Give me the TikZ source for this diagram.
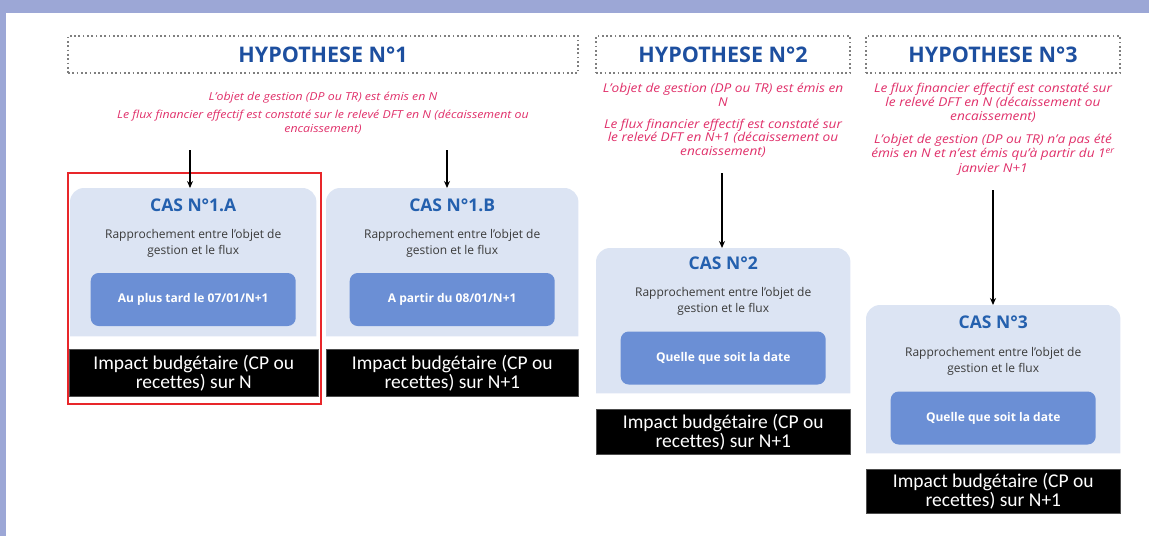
\documentclass[tikz,border=0pt]{standalone}
\usepackage{fontspec}
\setmainfont{Open Sans}
\newfontfamily\calib[Ligatures=NoCommon]{Carlito}
\newfontfamily\pinkfont[FakeStretch=1.12]{Open Sans}
\usetikzlibrary{arrows.meta}
\definecolor{band}{HTML}{9CA7D6}
\definecolor{hblue}{HTML}{1D4F9F}
\definecolor{cblue}{HTML}{2460AE}
\definecolor{pinkc}{HTML}{E0306A}
\definecolor{lbox}{HTML}{DCE4F3}
\definecolor{btn}{HTML}{6B8FD5}
\definecolor{dgray}{HTML}{3A3A3A}
\definecolor{dotc}{HTML}{7F7F7F}
\definecolor{redc}{HTML}{E8262A}
\newcommand\lightbg[1]{\fill[lbox] (#1.south west) [rounded corners=14pt] -- (#1.north west) -- (#1.north east) [sharp corners] -- (#1.south east) -- cycle;}
\begin{document}
\begin{tikzpicture}[x=1pt,y=-1pt,
  hyp/.style={draw=dotc, line width=1.7pt, dash pattern=on 1.7pt off 2.6pt, minimum height=37pt, inner sep=0pt, font=\bfseries\fontsize{21.5}{24}\selectfont, text=hblue},
  pinktxt/.style={text=pinkc, align=center, anchor=north, inner sep=0pt},
  casebox/.style={anchor=north west, inner sep=0pt, minimum height=148pt},
  castitle/.style={text=cblue, font=\bfseries\fontsize{17.5}{20}\selectfont, inner sep=0pt},
  casedesc/.style={text=dgray, font=\fontsize{12}{16}\selectfont, align=center, inner sep=0pt},
  button/.style={fill=btn, rounded corners=8pt, minimum width=205pt, minimum height=53pt, text=white, font=\bfseries\fontsize{12}{14}\selectfont, inner sep=0pt},
  impact/.style={fill=black, draw=black!70, line width=0.6pt, anchor=north west, inner sep=0pt, text=white, font=\calib\fontsize{19.5}{19}\selectfont, align=center},
  arr/.style={-{Stealth[length=7pt,width=6pt]}, line width=1.3pt}
]
\useasboundingbox (0,0) rectangle (1149,536);
\fill[band] (0,0) rectangle (1149,13);
\fill[band] (0,0) rectangle (6,536);

% hypotheses
\node[hyp, minimum width=510pt] (h1) at (323,54.5) {HYPOTHESE N°1};
\node[hyp, minimum width=254pt] (h2) at (723,54.5) {HYPOTHESE N°2};
\node[hyp, minimum width=254pt] (h3) at (993,54.5) {HYPOTHESE N°3};

\node[pinktxt, font=\pinkfont\itshape\fontsize{11}{13.5}\selectfont] (t1) at (323,92) {L’objet de gestion (DP ou TR) est émis en N\\[4.5pt]
Le flux financier effectif est constaté sur le relevé DFT en N (décaissement ou\\encaissement)};
\node[pinktxt, font=\pinkfont\itshape\fontsize{12.2}{13.8}\selectfont] (t2) at (723,83) {L’objet de gestion (DP ou TR) est émis en\\N\\[8pt]
Le flux financier effectif est constaté sur\\le relevé DFT en N+1 (décaissement ou\\encaissement)};
\node[pinktxt, font=\pinkfont\itshape\fontsize{12.2}{13.8}\selectfont] (t3) at (993,83) {Le flux financier effectif est constaté sur\\le relevé DFT en N (décaissement ou\\encaissement)\\[10pt]
L’objet de gestion (DP ou TR) n’a pas été\\émis en N et n’est émis qu’à partir du 1\textsuperscript{er}\\[1pt]janvier N+1};

% case boxes
\node[casebox, minimum width=246pt] (c1a) at (70,188) {};
\node[casebox, minimum width=252pt] (c1b) at (326,188) {};
\node[casebox, minimum width=254pt, minimum height=145pt] (c2) at (596,248) {};
\node[casebox, minimum width=254pt] (c3) at (866,305) {};
\lightbg{c1a}
\lightbg{c1b}
\lightbg{c2}
\lightbg{c3}

\node[castitle] (ti1a) at ([yshift=-17pt]c1a.north) {CAS N°1.A};
\node[castitle] (ti1b) at ([yshift=-17pt]c1b.north) {CAS N°1.B};
\node[castitle] (ti2) at ([yshift=-15pt]c2.north) {CAS N°2};
\node[castitle] (ti3) at ([yshift=-17pt]c3.north) {CAS N°3};

\node[casedesc] (d1a) at ([yshift=-55pt]c1a.north) {Rapprochement entre l’objet de\\gestion et le flux};
\node[casedesc] (d1b) at ([yshift=-55pt]c1b.north) {Rapprochement entre l’objet de\\gestion et le flux};
\node[casedesc] (d2) at ([yshift=-53pt]c2.north) {Rapprochement entre l’objet de\\gestion et le flux};
\node[casedesc] (d3) at ([yshift=-56pt]c3.north) {Rapprochement entre l’objet de\\gestion et le flux};

\node[button] (b1a) at ([yshift=-111.5pt]c1a.north) {Au plus tard le 07/01/N+1};
\node[button] (b1b) at ([yshift=-111.5pt]c1b.north) {A partir du 08/01/N+1};
\node[button] (b2) at ([yshift=-110pt]c2.north) {Quelle que soit la date};
\node[button] (b3) at ([yshift=-113pt]c3.north) {Quelle que soit la date};

% impact boxes
\node[impact, minimum width=249pt, minimum height=47pt] (i1a) at (69,349) {Impact budgétaire (CP ou\\recettes) sur N};
\node[impact, minimum width=252pt, minimum height=47pt] (i1b) at (326,349) {Impact budgétaire (CP ou\\recettes) sur N+1};
\node[impact, minimum width=254pt, minimum height=45pt] (i2) at (596,409) {Impact budgétaire (CP ou\\recettes) sur N+1};
\node[impact, minimum width=254pt, minimum height=44pt] (i3) at (866,469) {Impact budgétaire (CP ou\\recettes) sur N+1};

% highlight
\node[draw=redc, line width=1.5pt, anchor=north west, minimum width=253pt, minimum height=231pt, inner sep=0pt] (red) at (67,172) {};

% arrows
\coordinate (s1a) at (190,150);
\coordinate (s1b) at (447,150);
\coordinate (s2) at (722,173);
\coordinate (s3) at (993,190);
\draw[arr] (s1a) -- (s1a |- c1a.north);
\draw[arr] (s1b) -- (s1b |- c1b.north);
\draw[arr] (s2) -- (s2 |- c2.north);
\draw[arr] (s3) -- (s3 |- c3.north);
\end{tikzpicture}
\end{document}
